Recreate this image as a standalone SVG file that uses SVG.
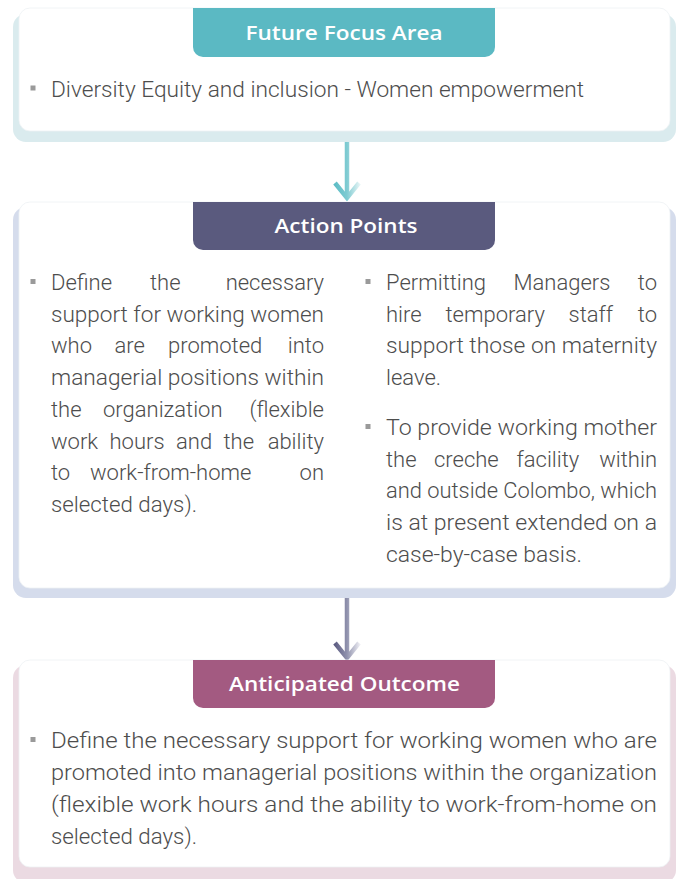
<svg xmlns="http://www.w3.org/2000/svg" width="682" height="879" viewBox="0 0 682 879">
<defs>
<style>
.card{fill:#ffffff;stroke:#eef1f4;stroke-width:0.8}
.hdr{font-family:"Open Sans","Liberation Sans",sans-serif;font-weight:600;font-size:19px;fill:#ffffff;text-anchor:middle}
.b{font-family:Roboto,"Liberation Sans",sans-serif;font-weight:300;font-size:22px;fill:#4d4d4d}
.e{text-anchor:end}
.bul{fill:#9a9a9a}
</style>
<linearGradient id="g1" gradientUnits="userSpaceOnUse" x1="334" y1="0" x2="360" y2="0">
<stop offset="0" stop-color="#5bbcc5"/><stop offset="0.5" stop-color="#7fcbd2"/><stop offset="1" stop-color="#e6f5f6"/>
</linearGradient>
<linearGradient id="g2" gradientUnits="userSpaceOnUse" x1="334" y1="0" x2="360" y2="0">
<stop offset="0" stop-color="#5a5a80"/><stop offset="0.5" stop-color="#9092ad"/><stop offset="1" stop-color="#eeeef4"/>
</linearGradient>
</defs>

<g id="connectors">
<g stroke="url(#g1)" stroke-width="4.5" fill="none">
<line x1="347" y1="140" x2="347" y2="197"/>
<polyline points="335,183 347,198 359,183"/>
</g>
<g stroke="url(#g2)" stroke-width="4.5" fill="none">
<line x1="347" y1="598" x2="347" y2="657"/>
<polyline points="335,643 347,658 359,643"/>
</g>
</g>

<g id="future-focus-area">
<rect x="13" y="14" width="663" height="128" rx="13" fill="#daebee"/>
<rect class="card" x="19" y="8" width="651" height="123" rx="11"/>
<path d="M193,8 H495 V47 A10,10 0 0 1 485,57 H203 A10,10 0 0 1 193,47 Z" fill="#5bb9c3"/>
<text class="hdr" x="344" y="39.5" textLength="197" lengthAdjust="spacingAndGlyphs">Future Focus Area</text>
<rect class="bul" x="30.5" y="85.5" width="5" height="5"/>
<text class="b" x="51" y="97" textLength="533" lengthAdjust="spacingAndGlyphs">Diversity Equity and inclusion - Women empowerment</text>
</g>

<g id="action-points">
<rect x="13" y="207" width="663" height="391" rx="13" fill="#d5dcec"/>
<rect class="card" x="19" y="202" width="651" height="386" rx="11"/>
<path d="M193,202 H495 V240 A10,10 0 0 1 485,250 H203 A10,10 0 0 1 193,240 Z" fill="#5a5a7e"/>
<text class="hdr" x="346" y="233" textLength="143" lengthAdjust="spacingAndGlyphs">Action Points</text>

<rect class="bul" x="30.5" y="279" width="5" height="5"/>
<text class="b" x="51" y="290">Define</text>
<text class="b" x="150" y="290">the</text>
<text class="b e" x="324" y="290">necessary</text>
<text class="b" x="51" y="321.7" textLength="273" lengthAdjust="spacingAndGlyphs">support for working women</text>
<text class="b" x="51" y="353.4">who</text>
<text class="b" x="114.5" y="353.4">are</text>
<text class="b" x="168" y="353.4">promoted</text>
<text class="b e" x="324" y="353.4">into</text>
<text class="b" x="51" y="385.1" textLength="273" lengthAdjust="spacingAndGlyphs">managerial positions within</text>
<text class="b" x="51" y="416.8">the</text>
<text class="b" x="103" y="416.8">organization</text>
<text class="b e" x="324" y="416.8">(flexible</text>
<text class="b" x="51" y="448.5">work</text>
<text class="b" x="109.5" y="448.5">hours</text>
<text class="b" x="176" y="448.5">and</text>
<text class="b" x="223.5" y="448.5">the</text>
<text class="b e" x="324" y="448.5">ability</text>
<text class="b" x="51" y="480.2">to</text>
<text class="b" x="90" y="480.2">work-from-home</text>
<text class="b e" x="324" y="480.2">on</text>
<text class="b" x="51" y="511.9" textLength="146" lengthAdjust="spacingAndGlyphs">selected days).</text>

<rect class="bul" x="365.5" y="279" width="5" height="5"/>
<text class="b" x="386" y="290">Permitting</text>
<text class="b" x="513.5" y="290">Managers</text>
<text class="b e" x="657" y="290">to</text>
<text class="b" x="386" y="321.7">hire</text>
<text class="b" x="445.5" y="321.7">temporary</text>
<text class="b" x="568.5" y="321.7">staff</text>
<text class="b e" x="657" y="321.7">to</text>
<text class="b" x="386" y="353.4" textLength="271" lengthAdjust="spacingAndGlyphs">support those on maternity</text>
<text class="b" x="386" y="385.1">leave.</text>

<rect class="bul" x="365.5" y="424" width="5" height="5"/>
<text class="b" x="386" y="435" textLength="271" lengthAdjust="spacingAndGlyphs">To provide working mother</text>
<text class="b" x="386" y="466.7">the</text>
<text class="b" x="434" y="466.7">creche</text>
<text class="b" x="516.5" y="466.7">facility</text>
<text class="b e" x="657" y="466.7">within</text>
<text class="b" x="386" y="498.4" textLength="271" lengthAdjust="spacingAndGlyphs">and outside Colombo, which</text>
<text class="b" x="386" y="530.1" textLength="271" lengthAdjust="spacingAndGlyphs">is at present extended on a</text>
<text class="b" x="386" y="561.8" textLength="196" lengthAdjust="spacingAndGlyphs">case-by-case basis.</text>
</g>

<g id="anticipated-outcome">
<rect x="13" y="665" width="663" height="218" rx="13" fill="#ebdae2"/>
<rect class="card" x="19" y="660" width="651" height="207" rx="11"/>
<path d="M193,660 H495 V698 A10,10 0 0 1 485,708 H203 A10,10 0 0 1 193,698 Z" fill="#a35a81"/>
<text class="hdr" x="344.5" y="691" textLength="231" lengthAdjust="spacingAndGlyphs" font-weight="700">Anticipated Outcome</text>
<rect class="bul" x="30.5" y="737" width="5" height="5"/>
<text class="b" x="51" y="748" textLength="606" lengthAdjust="spacingAndGlyphs">Define the necessary support for working women who are</text>
<text class="b" x="51" y="780" textLength="606" lengthAdjust="spacingAndGlyphs">promoted into managerial positions within the organization</text>
<text class="b" x="51" y="812" textLength="606" lengthAdjust="spacingAndGlyphs">(flexible work hours and the ability to work-from-home on</text>
<text class="b" x="51" y="843.5" textLength="146" lengthAdjust="spacingAndGlyphs">selected days).</text>
</g>
</svg>
